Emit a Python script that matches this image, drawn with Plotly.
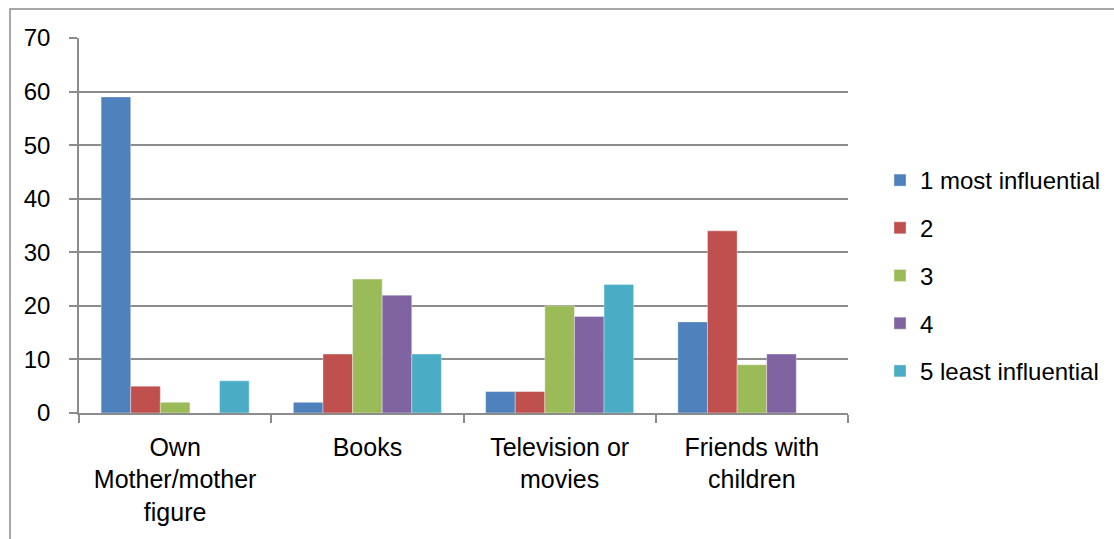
import plotly.graph_objects as go

categories = ["Own<br>Mother/mother<br>figure", "Books", "Television or<br>movies", "Friends with<br>children"]
series_names = ["1 most influential", "2", "3", "4", "5 least influential"]
s1 = [59, 2, 4, 17]
s2 = [5, 11, 4, 34]
s3 = [2, 25, 20, 9]
s4 = [0, 22, 18, 11]
s5 = [6, 11, 24, 0]
colors = ["#4F81BD", "#C0504D", "#9BBB59", "#8064A2", "#4BACC6"]

W, H = 1114, 539
L, R, T, B = 79, 266, 38, 126
pw, ph = W - L - R, H - T - B

fig = go.Figure()
for i, (name, vals) in enumerate(zip(series_names, [s1, s2, s3, s4, s5])):
    fig.add_trace(go.Bar(
        x=categories, y=vals, name=name, legendgroup=name,
        marker=dict(color=colors[i], line=dict(color="rgba(255,255,255,0.6)", width=0.6)),
    ))

font = "Liberation Sans, Arial, sans-serif"
fig.update_layout(
    width=W, height=H,
    margin=dict(l=L, r=R, t=T, b=B, autoexpand=False),
    paper_bgcolor="white", plot_bgcolor="white",
    barmode="group", bargap=0.23, bargroupgap=0,
    font=dict(family=font, size=24, color="black"),
    showlegend=True,
    legend=dict(x=(880 - L) / pw, y=1 - (158 - T) / ph, xanchor="left", yanchor="top",
                traceorder="grouped", tracegroupgap=13.5, font=dict(size=24),
                itemwidth=30, bgcolor="rgba(0,0,0,0)"),
    xaxis=dict(showline=True, linecolor="#8C8C8C", linewidth=1.5,
               ticks="outside", ticklen=8, tickcolor="#8C8C8C", tickwidth=1.5,
               tickson="boundaries", showgrid=False, tickfont=dict(size=25),
               ticklabelstandoff=11),
    yaxis=dict(range=[0, 70], dtick=10, showline=True, linecolor="#8C8C8C", linewidth=1.5,
               ticks="outside", ticklen=8, tickcolor="#8C8C8C", tickwidth=1.5,
               showgrid=True, gridcolor="#8C8C8C", gridwidth=1.5, zeroline=False,
               tickfont=dict(size=24), ticklabelstandoff=14),
)

# Chart outer border (top and left edges visible)
fig.add_shape(type="rect", xref="paper", yref="paper",
              x0=(10 - L) / pw, x1=(W + 10 - L) / pw,
              y0=1 - (H + 10 - T) / ph, y1=1 + (T - 9) / ph,
              line=dict(color="#8C8C8C", width=1.5), fillcolor="rgba(0,0,0,0)", layer="below")

fig.write_html("out.html")
